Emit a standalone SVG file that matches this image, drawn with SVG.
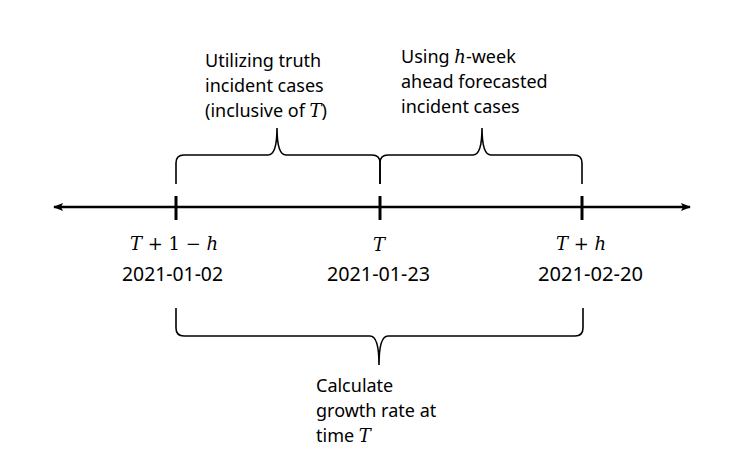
<svg xmlns="http://www.w3.org/2000/svg" width="740" height="469" viewBox="0 0 740 469">
<style>
.t{font-family:"Noto Sans","Open Sans",sans-serif;font-size:18px;fill:#000}
.d{font-family:"Noto Sans","Open Sans",sans-serif;font-size:19px;fill:#000}
.m{font-family:"DejaVu Serif","Liberation Serif",serif;font-style:italic}
.r{font-family:"DejaVu Serif","Liberation Serif",serif;font-style:normal}
.brace{fill:none;stroke:#000;stroke-width:1.6}
.axis{stroke:#000;stroke-width:2.5;fill:none}
.tick{stroke:#000;stroke-width:3}
</style>
<defs>
<marker id="ah" viewBox="0 0 10 10" refX="9" refY="5" markerWidth="4" markerHeight="4" orient="auto-start-reverse">
<path d="M0,1 L10,5 L0,9 L2,5 Z" fill="#000"/>
</marker>
</defs>
<rect width="740" height="469" fill="#fff"/>
<g id="connectors">
<line class="axis" x1="54" y1="207" x2="690" y2="207" marker-start="url(#ah)" marker-end="url(#ah)"/>
<line class="tick" x1="176" y1="196" x2="176" y2="220"/>
<line class="tick" x1="380" y1="196" x2="380" y2="220"/>
<line class="tick" x1="582" y1="196" x2="582" y2="220"/>
</g>
<g id="brace-truth">
<path class="brace" d="M176,184 L176,163 Q176,155 184,155 L268,155 Q277,155 277,128 Q277,155 286,155 L372,155 Q380,155 380,163 L380,184"/>
<text class="t" x="205" y="67">Utilizing truth</text>
<text class="t" x="205" y="92">incident cases</text>
<text class="t" x="205" y="117">(inclusive of <tspan class="m">T</tspan>)</text>
</g>
<g id="brace-forecast">
<path class="brace" d="M380,184 L380,163 Q380,155 388,155 L473,155 Q482,155 482,128 Q482,155 491,155 L574,155 Q582,155 582,163 L582,184"/>
<text class="t" x="401" y="63">Using <tspan class="m">h</tspan>-week</text>
<text class="t" x="401" y="88">ahead forecasted</text>
<text class="t" x="401" y="113">incident cases</text>
</g>
<g id="tick-left">
<text class="t m" x="174" y="250" text-anchor="middle">T<tspan class="r"> + 1 − </tspan>h</text>
<text class="d" x="122" y="281" textLength="101" lengthAdjust="spacingAndGlyphs">2021-01-02</text>
</g>
<g id="tick-mid">
<text class="t m" x="379" y="251" text-anchor="middle">T</text>
<text class="d" x="327" y="281" textLength="103" lengthAdjust="spacingAndGlyphs">2021-01-23</text>
</g>
<g id="tick-right">
<text class="t m" x="581" y="250" text-anchor="middle">T<tspan class="r"> + </tspan>h</text>
<text class="d" x="538" y="281" textLength="105" lengthAdjust="spacingAndGlyphs">2021-02-20</text>
</g>
<g id="brace-growth">
<path class="brace" d="M176,308 L176,328 Q176,336 184,336 L370,336 Q379,336 379,365 Q379,336 388,336 L575,336 Q583,336 583,328 L583,308"/>
<text class="t" x="316" y="392">Calculate</text>
<text class="t" x="316" y="417">growth rate at</text>
<text class="t" x="316" y="442">time <tspan class="m">T</tspan></text>
</g>
</svg>
